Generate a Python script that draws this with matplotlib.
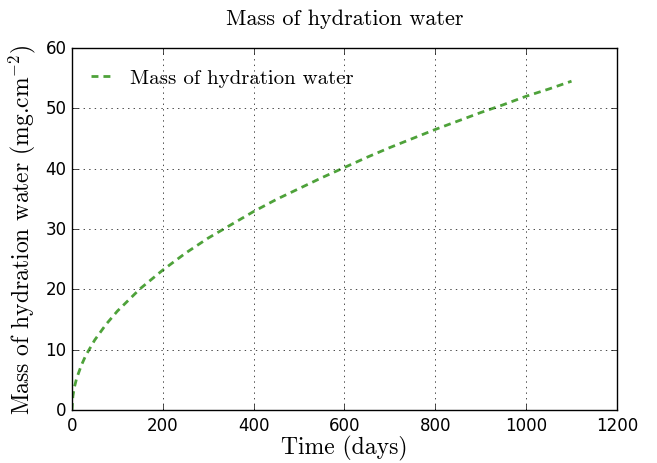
import matplotlib
matplotlib.use('Agg')
import matplotlib.pyplot as plt

plt.style.use('classic')
plt.rcParams['mathtext.fontset'] = 'cm'

# values
time_days = [0, 2, 5, 10, 20, 30, 50, 75, 100, 150, 200, 250, 300, 350, 400, 450,
             500, 550, 600, 650, 700, 750, 800, 850, 900, 950, 1000, 1050, 1100]
mass_water = [0, 2.3, 3.7, 5.2, 7.3, 9.0, 11.6, 14.2, 16.4, 20.1, 23.2, 26.0, 28.5,
              30.7, 32.9, 34.9, 36.7, 38.5, 40.2, 41.9, 43.5, 45.0, 46.5, 47.9,
              49.3, 50.6, 52.0, 53.2, 54.5]

cm = 'cmr10'

fig = plt.figure(figsize=(6.57, 4.64), dpi=100, facecolor='white')
ax = fig.add_axes([0.1096, 0.1142, 0.8294, 0.7802])

ax.plot(time_days, mass_water, '--', color='#4ea23a', lw=2, dashes=(5, 3.6),
        label='Mass of hydration water')
ax.set_xlim(0, 1200)
ax.set_ylim(0, 60)
ax.grid(True)
ax.tick_params(labelsize=12)

ax.set_title('Mass of hydration water', fontsize=16, family=cm, y=1.047)
ax.set_xlabel('Time (days)', fontsize=17, family=cm, labelpad=1)
ax.set_ylabel(r'Mass of hydration water (mg.cm$^{-2}$)', fontsize=17, family=cm,
              labelpad=5)
ax.legend(loc='upper left', bbox_to_anchor=(0.008, 0.967), borderaxespad=0,
          frameon=False, prop={'family': cm, 'size': 15},
          handlelength=1.7, handletextpad=0.47)

fig.savefig('out.png', dpi=100, facecolor='white')
